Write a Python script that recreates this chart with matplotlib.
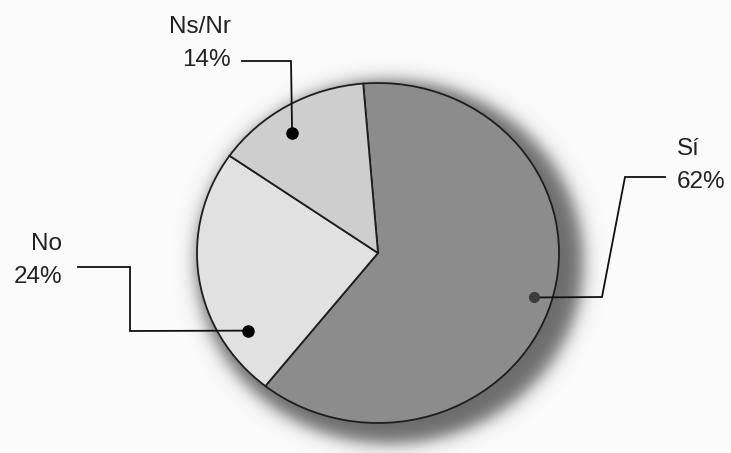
import numpy as np
import matplotlib.pyplot as plt

plt.rcParams["font.family"] = ["Liberation Sans", "DejaVu Sans"]

labels = ["Sí", "No", "Ns/Nr"]
values = [62, 24, 14]
colors = ["#8c8c8c", "#e1e1e1", "#cecece"]

W, H = 731, 453
cx, cy, rx, ry = 378, 253, 181, 170  # pie placement in pixels

# where the dot sits inside each wedge (fraction of the sweep, radius)
dot_frac = [0.5, 0.22, 0.42]
dot_rad = [0.9, 0.85, 0.85]
dot_col = ["#3c3c3c", "black", "black"]
# leader elbows after the dot, and label placement
leaders = [
    [(602, 297), (625, 177), (665, 177)],
    [(130, 331), (130, 267), (78, 267)],
    [(291, 61), (242, 61)],
]
label_pos = [(677, 155, "left"), (62, 250, "right"), (231, 33, "right")]
line_gap = 33

fig = plt.figure(figsize=(W / 100, H / 100), dpi=100)
fig.patch.set_facecolor("#fbfbfb")

base = fig.add_axes([0, 0, 1, 1])
base.set_xlim(0, W)
base.set_ylim(H, 0)
base.axis("off")

# soft drop shadow down-right of the pie
yy, xx = np.mgrid[0:H, 0:W] + 0.5
rho = np.hypot((xx - cx - 12) / rx, (yy - cy - 9) / ry)
dist = (rho - 1) * 175 - 12
shadow = np.zeros((H, W, 4))
shadow[..., :3] = 0.36
shadow[..., 3] = 0.9 / (1 + np.exp(dist / 5))
base.imshow(shadow, extent=(0, W, H, 0), aspect="auto", zorder=0)

pie_ax = fig.add_axes([(cx - rx) / W, 1 - (cy + ry) / H, 2 * rx / W, 2 * ry / H])
wedges, _ = pie_ax.pie(
    values,
    colors=colors,
    startangle=94.7,
    counterclock=False,
    radius=1,
    wedgeprops=dict(edgecolor="#1e1e1e", linewidth=1.3),
)
pie_ax.set_aspect("auto")
pie_ax.set_xlim(-1, 1)
pie_ax.set_ylim(-1, 1)
pie_ax.axis("off")
pie_ax.patch.set_alpha(0)

top = fig.add_axes([0, 0, 1, 1])
top.set_xlim(0, W)
top.set_ylim(H, 0)
top.axis("off")
top.patch.set_alpha(0)

for w, lab, val, f, r, dc, path, (tx, ty, ha) in zip(
    wedges, labels, values, dot_frac, dot_rad, dot_col, leaders, label_pos
):
    ang = np.deg2rad(w.theta2 - f * (w.theta2 - w.theta1))
    px = cx + r * rx * np.cos(ang)
    py = cy - r * ry * np.sin(ang)
    xs = [px] + [p[0] for p in path]
    ys = [py] + [p[1] for p in path]
    top.plot(xs, ys, color="#111111", lw=1.3, solid_joinstyle="miter")
    top.plot(px, py, "o", color=dc, ms=8 if dc == "black" else 7)
    top.text(tx, ty, lab, ha=ha, va="baseline", fontsize=17.5, color="#222222")
    top.text(tx, ty + line_gap, f"{val}%", ha=ha, va="baseline", fontsize=17.5, color="#222222")

fig.savefig("out.png", dpi=100, facecolor=fig.get_facecolor())
